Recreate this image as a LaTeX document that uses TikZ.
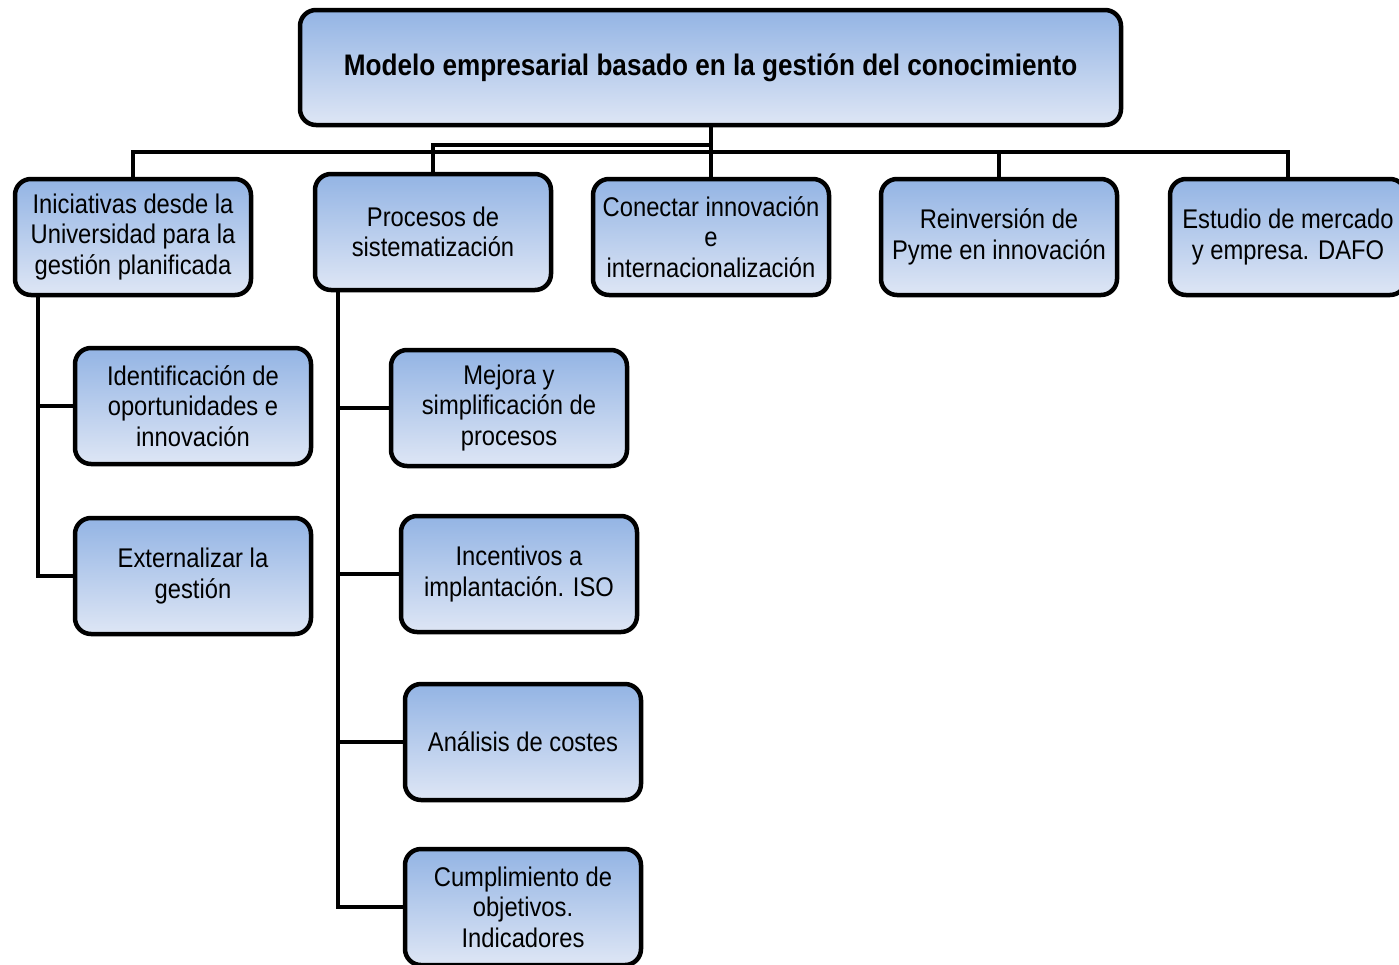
\documentclass[tikz,border=0pt]{standalone}
\usepackage{fontspec}
\setmainfont{Liberation Sans}[FakeStretch=0.88]
\usepackage{tikz}
\usetikzlibrary{scopes}
\definecolor{boxtop}{RGB}{147,180,228}
\definecolor{boxbot}{RGB}{222,230,245}

\begin{document}
\begin{tikzpicture}[x=1pt,y=-1pt,
        box/.style={draw=black, line width=4.5pt, rounded corners=16pt,
            top color=boxtop, bottom color=boxbot, align=center, inner sep=0pt,
            minimum width=236pt, minimum height=116pt,
            font=\fontsize{27}{30.5}\selectfont},
        link/.style={line width=4pt}]
        \useasboundingbox (0,0) rectangle (1399,964);
        \begin{scope}

            \node[box, minimum width=821pt, minimum height=115pt,
                font=\fontsize{29.7}{33}\selectfont\bfseries] (modelo) at (710.5,67.5)
                {Modelo empresarial basado en la gesti\'on del conocimiento};

            % primer nivel
            \node[box] (inic) at (133,237) {Iniciativas desde la\\Universidad para la\\gesti\'on planificada};
            \node[box] (proc) at (433,232) {Procesos de\\sistematizaci\'on};
            \node[box] (conec) at (711,237) {Conectar innovaci\'on\\e\\internacionalizaci\'on};
            \node[box] (reinv) at (999,237) {Reinversi\'on de\\Pyme en innovaci\'on};
            \node[box] (estud) at (1288,237) {Estudio de mercado\\y empresa. DAFO};

            % segundo nivel
            \node[box] (ident) at (193,406) {Identificaci\'on de\\oportunidades e\\innovaci\'on};
            \node[box] (exter) at (193,576) {Externalizar la\\gesti\'on};
            \node[box] (mejora) at (509,408) {Mejora y\\simplificaci\'on de\\procesos};
            \node[box] (incent) at (519,574) {Incentivos a\\implantaci\'on. ISO};
            \node[box] (analis) at (523,742) {An\'alisis de costes};
            \node[box] (cumpl) at (523,907) {Cumplimiento de\\objetivos.\\Indicadores};

            \coordinate (bus) at (710.5,152);
            \coordinate (bus2) at (710.5,145);

            {[link]
                \draw (modelo.south) -- (bus);
                \draw (inic.north) -- (inic.north |- bus) -- (estud.north |- bus) -- (estud.north);
                \draw (conec.north) -- (conec.north |- bus);
                \draw (reinv.north) -- (reinv.north |- bus);
                \draw (bus2) -| (proc.north);

                \draw ([xshift=25pt]inic.south west) |- (ident.west);
                \draw ([xshift=25pt]inic.south west) |- (exter.west);

                \draw ([xshift=25pt]proc.south west) |- (mejora.west);
                \draw ([xshift=25pt]proc.south west) |- (incent.west);
                \draw ([xshift=25pt]proc.south west) |- (analis.west);
                \draw ([xshift=25pt]proc.south west) |- (cumpl.west);
            }

        \end{scope}
    \end{tikzpicture}
\end{document}
